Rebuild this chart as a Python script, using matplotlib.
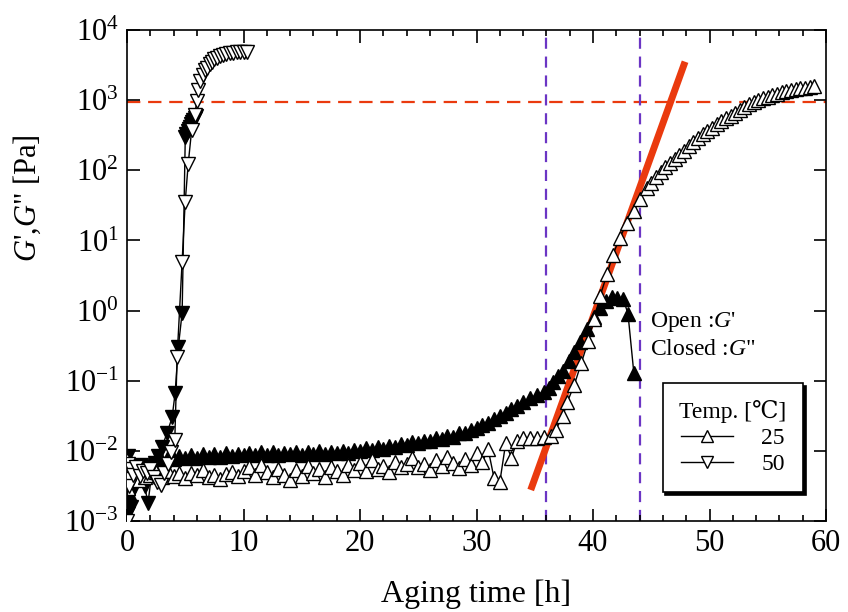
import matplotlib
matplotlib.use('Agg')
import matplotlib.pyplot as plt
from matplotlib.ticker import MultipleLocator, NullLocator
from matplotlib.lines import Line2D

plt.rcParams['font.family'] = ['Liberation Serif', 'DejaVu Serif']
plt.rcParams['mathtext.fontset'] = 'custom'
plt.rcParams['mathtext.rm'] = 'Liberation Serif'
plt.rcParams['mathtext.it'] = 'Liberation Serif:italic'
plt.rcParams['axes.unicode_minus'] = False

# 25 C, storage modulus G' [Pa]
t25_gp = [0.0, 0.1, 0.2, 0.3, 0.5, 1.0, 1.5, 2.0, 2.5, 3.0, 3.5, 4.0, 4.5, 5.0, 5.5,
          6.0, 6.5, 7.0, 7.5, 8.0, 8.5, 9.0, 9.5, 10.0, 10.5, 11.0, 11.5, 12.0, 12.5,
          13.0, 13.5, 14.0, 14.5, 15.0, 15.5, 16.0, 16.5, 17.0, 17.5, 18.0, 18.5, 19.0,
          19.5, 20.0, 20.5, 21.0, 21.5, 22.0, 22.5, 23.0, 23.5, 24.0, 24.5, 25.0, 25.5,
          26.0, 26.5, 27.0, 27.5, 28.0, 28.5, 29.0, 29.5, 30.0, 30.5, 31.0, 31.5, 32.0,
          32.5, 33.0, 33.5, 34.0, 34.6, 35.2, 35.8, 36.4, 36.8, 37.4, 37.8, 38.4, 39.0,
          39.6, 40.1, 40.6, 41.2, 41.7, 42.3, 42.9, 43.5, 44.0, 44.6, 45.0, 45.4, 45.8,
          46.2, 46.6, 47.0, 47.4, 47.8, 48.2, 48.6, 49.0, 49.4, 49.8, 50.2, 50.6, 51.0,
          51.4, 51.8, 52.2, 52.6, 53.0, 53.4, 53.8, 54.2, 54.6, 55.0, 55.4, 55.8, 56.2,
          56.6, 57.0, 57.4, 57.8, 58.2, 58.6, 59.0]
g25_gp = [7.5e-3, 3.0e-3, 5.5e-3, 4.0e-3, 4.5e-3, 3.8e-3, 4.2e-3, 4.6e-3, 5.0e-3, 4.3e-3,
          5.2e-3, 4.4e-3, 4.8e-3, 4.1e-3, 4.9e-3, 4.5e-3, 5.3e-3, 4.2e-3, 4.6e-3, 4.0e-3,
          4.7e-3, 5.0e-3, 4.4e-3, 5.2e-3, 5.8e-3, 4.5e-3, 6.2e-3, 5.0e-3, 4.3e-3, 5.6e-3,
          4.6e-3, 3.9e-3, 5.3e-3, 4.4e-3, 6.0e-3, 4.8e-3, 5.5e-3, 4.2e-3, 5.9e-3, 5.1e-3,
          4.6e-3, 6.3e-3, 5.4e-3, 6.7e-3, 5.2e-3, 7.3e-3, 5.6e-3, 6.1e-3, 5.0e-3, 6.9e-3,
          5.8e-3, 6.4e-3, 7.8e-3, 5.9e-3, 6.6e-3, 5.4e-3, 7.4e-3, 6.0e-3, 8.3e-3, 6.8e-3,
          5.7e-3, 7.6e-3, 6.3e-3, 9.2e-3, 7.0e-3, 1.05e-2, 4.1e-3, 3.6e-3, 1.28e-2, 8.0e-3,
          1.40e-2, 1.50e-2, 1.55e-2, 1.50e-2, 1.60e-2, 1.65e-2, 2.0e-2, 3.1e-2, 5.0e-2,
          8.8e-2, 0.18, 0.37, 0.75, 1.6, 3.3, 6.2, 11.0, 17.5, 26.0, 39.0, 55.0, 66.0, 79.0,
          93.0, 110.0, 126.0, 145.0, 166.0, 190.0, 219.0, 251.0, 288.0, 324.0, 363.0, 407.0,
          457.0, 501.0, 550.0, 603.0, 661.0, 724.0, 794.0, 871.0, 933.0, 1000.0, 1070.0,
          1120.0, 1175.0, 1230.0, 1290.0, 1350.0, 1380.0, 1430.0, 1480.0, 1510.0, 1550.0,
          1580.0]

# 25 C, loss modulus G'' [Pa]
t25_gpp = [0.0, 0.05, 0.1, 0.15, 0.2, 0.3, 0.5, 1.0, 1.5, 2.0, 2.5, 3.0, 3.5, 4.0, 4.5,
           5.0, 5.5, 6.0, 6.5, 7.0, 7.5, 8.0, 8.5, 9.0, 9.5, 10.0, 10.5, 11.0, 11.5, 12.0,
           12.5, 13.0, 13.5, 14.0, 14.5, 15.0, 15.5, 16.0, 16.5, 17.0, 17.5, 18.0, 18.5,
           19.0, 19.5, 20.0, 20.5, 21.0, 21.5, 22.0, 22.5, 23.0, 23.5, 24.0, 24.5, 25.0,
           25.5, 26.0, 26.5, 27.0, 27.5, 28.0, 28.5, 29.0, 29.5, 30.0, 30.5, 31.0, 31.5,
           32.0, 32.5, 33.0, 33.5, 34.0, 34.6, 35.2, 35.8, 36.2, 36.6, 37.0, 37.4, 37.9,
           38.4, 38.9, 39.5, 40.1, 40.6, 41.1, 41.6, 42.1, 42.6, 43.0, 43.5]
g25_gpp = [8.0e-3, 3.0e-3, 6.5e-3, 2.5e-3, 5.0e-3, 6.0e-3, 4.2e-3, 5.5e-3, 6.2e-3, 6.8e-3,
           7.6e-3, 7.2e-3, 8.1e-3, 7.6e-3, 8.4e-3, 7.8e-3, 8.8e-3, 8.0e-3, 9.0e-3, 8.3e-3,
           8.9e-3, 8.2e-3, 9.3e-3, 8.5e-3, 9.1e-3, 8.6e-3, 9.4e-3, 8.7e-3, 9.6e-3, 8.8e-3,
           9.5e-3, 8.6e-3, 9.3e-3, 8.9e-3, 9.7e-3, 8.7e-3, 9.5e-3, 9.0e-3, 9.8e-3, 9.1e-3,
           9.6e-3, 9.2e-3, 1.01e-2, 9.4e-3, 1.03e-2, 9.8e-3, 1.09e-2, 1.02e-2, 1.15e-2,
           1.08e-2, 1.19e-2, 1.14e-2, 1.26e-2, 1.20e-2, 1.32e-2, 1.28e-2, 1.40e-2, 1.36e-2,
           1.50e-2, 1.46e-2, 1.62e-2, 1.60e-2, 1.78e-2, 1.80e-2, 2.00e-2, 2.10e-2, 2.35e-2,
           2.50e-2, 2.80e-2, 3.10e-2, 3.50e-2, 3.90e-2, 4.40e-2, 4.90e-2, 5.60e-2, 6.30e-2,
           7.00e-2, 8.00e-2, 9.50e-2, 0.115, 0.137, 0.19, 0.257, 0.36, 0.55, 0.82, 1.10,
           1.35, 1.55, 1.50, 1.45, 0.90, 0.13]

# 50 C, storage modulus G' [Pa]
t50_gp = [0.0, 0.05, 0.1, 0.2, 0.3, 0.5, 0.8, 1.1, 1.4, 1.7, 2.0, 2.3, 2.6, 2.9, 3.2,
          3.5, 3.8, 4.1, 4.3, 4.73, 4.99, 5.25, 5.55, 5.8, 6.0, 6.1, 6.27, 6.5, 6.7, 6.87,
          7.1, 7.3, 7.5, 7.7, 7.95, 8.24, 8.5, 8.8, 9.1, 9.4, 9.7, 10.0, 10.3]
g50_gp = [1.0e-3, 4.0e-3, 6.5e-3, 3.2e-3, 5.5e-3, 4.6e-3, 5.8e-3, 4.4e-3, 5.2e-3, 4.8e-3,
          5.5e-3, 4.2e-3, 3.6e-3, 3.3e-3, 4.8e-3, 6.5e-3, 9.5e-3, 1.43e-2, 0.22, 5.0, 35.0,
          123.0, 380.0, 620.0, 960.0, 1400.0, 1900.0, 2300.0, 2650.0, 2900.0, 3250.0,
          3500.0, 3800.0, 4030.0, 4250.0, 4450.0, 4580.0, 4680.0, 4750.0, 4800.0, 4850.0,
          4880.0, 4900.0]

# 50 C, loss modulus G'' [Pa]
t50_gpp = [0.0, 0.05, 0.1, 0.15, 0.2, 0.3, 0.4, 0.6, 0.8, 1.0, 1.2, 1.5, 1.8, 2.1, 2.4,
           2.7, 3.0, 3.44, 3.87, 4.13, 4.4, 4.73, 5.0, 5.1, 5.2, 5.3, 5.4, 5.5, 5.6, 5.7,
           5.8, 5.9]
g50_gpp = [5.5e-3, 1.3e-3, 8.5e-3, 2.2e-3, 6.0e-3, 1.6e-3, 4.5e-3, 3.0e-3, 5.5e-3, 4.2e-3,
           6.2e-3, 3.2e-3, 1.8e-3, 4.5e-3, 6.8e-3, 8.5e-3, 1.14e-2, 1.8e-2, 3.0e-2, 6.7e-2,
           0.30, 0.93, 300.0, 330.0, 360.0, 390.0, 420.0, 450.0, 480.0, 520.0, 560.0, 600.0]

# straight-line fit through the rise at 25 C
fit_t = [34.65, 47.9]
fit_g = [2.77e-3, 3530.0]

g_level = 950.0          # horizontal reference level [Pa]
t_marks = [36.0, 44.0]   # vertical reference times [h]

fig = plt.figure(figsize=(8.48, 6.12), dpi=100)
ax = fig.add_axes([0.1498, 0.1487, 0.8243, 0.8023])

red = '#EA3A0E'
purple = '#6B35C4'

ax.axhline(g_level, color=red, lw=1.6, dashes=(6, 3.5), zorder=1)
for tm in t_marks:
    ax.axvline(tm, color=purple, lw=1.6, dashes=(5, 3.5), zorder=1)
ax.plot(fit_t, fit_g, color=red, lw=5, solid_capstyle='butt', zorder=2)

mk = dict(color='k', lw=1.0, ms=10, mew=1.0, mec='k', zorder=3)
ax.plot(t25_gpp, g25_gpp, marker='^', mfc='k', **mk)
ax.plot(t50_gpp, g50_gpp, marker='v', mfc='k', **mk)
ax.plot(t25_gp, g25_gp, marker='^', mfc='white', **mk)
ax.plot(t50_gp, g50_gp, marker='v', mfc='white', **mk)

ax.set_yscale('log')
ax.set_xlim(0, 60)
ax.set_ylim(1e-3, 1e4)
ax.xaxis.set_major_locator(MultipleLocator(10))
ax.xaxis.set_minor_locator(MultipleLocator(2))
ax.yaxis.set_minor_locator(NullLocator())
ax.tick_params(which='both', direction='in', top=True, right=True, width=1.2)
ax.tick_params(which='major', length=9, labelsize=22, pad=6)
ax.tick_params(which='minor', length=4.5)
for s in ax.spines.values():
    s.set_linewidth(1.2)

ax.set_xlabel('Aging time [h]', fontsize=23, labelpad=15)
ax.set_ylabel('$G$\',$G$" [Pa]', fontsize=22)
ax.yaxis.set_label_coords(-0.12, 0.658)

ax.text(0.748, 0.405, 'Open :$G$\'', transform=ax.transAxes, fontsize=17, va='center')
ax.text(0.748, 0.350, 'Closed :$G$"', transform=ax.transAxes, fontsize=17, va='center')

handles = [
    Line2D([], [], color='k', lw=1.0, marker='^', ms=9, mfc='white', mec='k'),
    Line2D([], [], color='k', lw=1.0, marker='v', ms=9, mfc='white', mec='k'),
]
leg = ax.legend(handles, ['25', '50'], title='Temp. [\u2103]', loc='lower right',
                bbox_to_anchor=(0.967, 0.059), borderaxespad=0, fontsize=17,
                title_fontsize=17, fancybox=False, framealpha=1, edgecolor='k',
                shadow={'color': 'k', 'alpha': 1}, handlelength=2.2,
                labelspacing=0.2, borderpad=0.7, handletextpad=1.2)
leg.get_frame().set_linewidth(1.2)

fig.savefig('out.png', dpi=100)
